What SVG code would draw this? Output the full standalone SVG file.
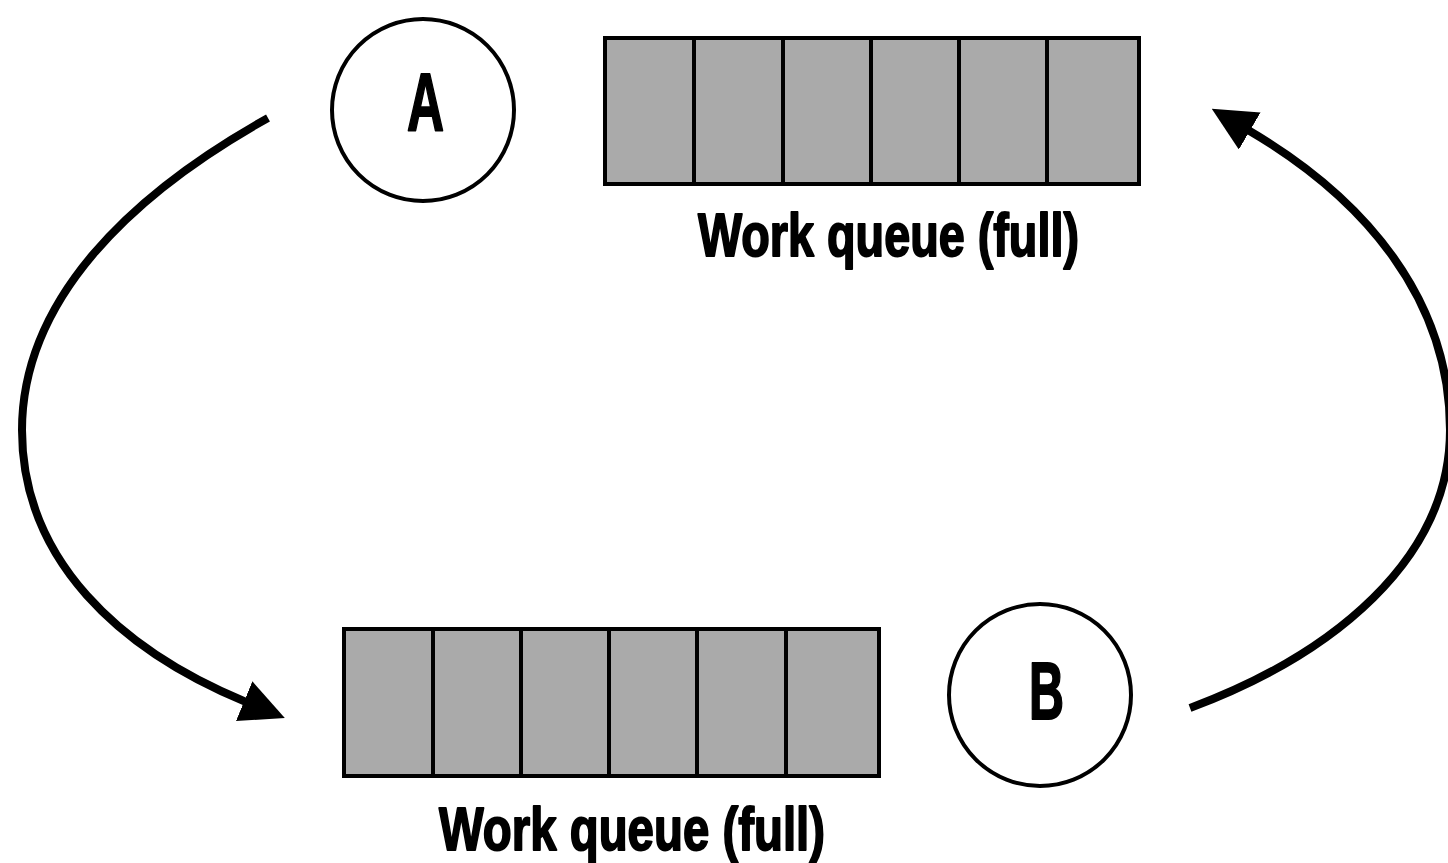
<svg xmlns="http://www.w3.org/2000/svg" width="1448" height="863" viewBox="0 0 1448 863">
<style>
.bg{fill:#ffffff}
.cell{fill:#aaaaaa;stroke:#000;stroke-width:4}
.node{fill:#ffffff;stroke:#000;stroke-width:4}
.lbl{font-family:"Liberation Sans",Arial,sans-serif;font-weight:bold;fill:#000;stroke:#000;stroke-width:2;stroke-linejoin:round}
.conn{fill:none;stroke:#000;stroke-width:8}
</style>
<defs>
<marker id="ah" viewBox="0 -21.5 44 43" markerWidth="44" markerHeight="43" refX="2" refY="0" orient="auto" markerUnits="userSpaceOnUse">
<path d="M0,-21.5 L44,0 L0,21.5 Z" fill="#000"/>
</marker>
</defs>
<rect class="bg" x="0" y="0" width="1448" height="863"/>
<g id="nodeA">
<circle class="node" cx="423" cy="110" r="91"/>
<text class="lbl" x="407" y="130" font-size="81" textLength="37" lengthAdjust="spacingAndGlyphs">A</text>
</g>
<g id="nodeB">
<circle class="node" cx="1040" cy="695" r="91"/>
<text class="lbl" x="1029" y="719" font-size="81" textLength="35" lengthAdjust="spacingAndGlyphs">B</text>
</g>
<g id="queueTop">
<rect class="cell" x="605" y="38" width="89" height="146"/>
<rect class="cell" x="694" y="38" width="89" height="146"/>
<rect class="cell" x="783" y="38" width="88" height="146"/>
<rect class="cell" x="871" y="38" width="88" height="146"/>
<rect class="cell" x="959" y="38" width="88" height="146"/>
<rect class="cell" x="1047" y="38" width="92" height="146"/>
<text class="lbl" x="698" y="256" font-size="62" textLength="381" lengthAdjust="spacingAndGlyphs">Work queue (full)</text>
</g>
<g id="queueBottom">
<rect class="cell" x="344" y="629" width="89" height="147"/>
<rect class="cell" x="433" y="629" width="88" height="147"/>
<rect class="cell" x="521" y="629" width="88" height="147"/>
<rect class="cell" x="609" y="629" width="88" height="147"/>
<rect class="cell" x="697" y="629" width="89" height="147"/>
<rect class="cell" x="786" y="629" width="93" height="147"/>
<text class="lbl" x="439" y="850" font-size="62" textLength="386" lengthAdjust="spacingAndGlyphs">Work queue (full)</text>
</g>
<g id="connectors">
<path class="conn" d="M268,118 C130,195 22,300 22,430 C22,560 120,650 246,702" marker-end="url(#ah)"/>
<path class="conn" d="M1190,708 C1332,655 1450,560 1450,430 C1450,300 1366,199 1248,130" marker-end="url(#ah)"/>
</g>
</svg>
